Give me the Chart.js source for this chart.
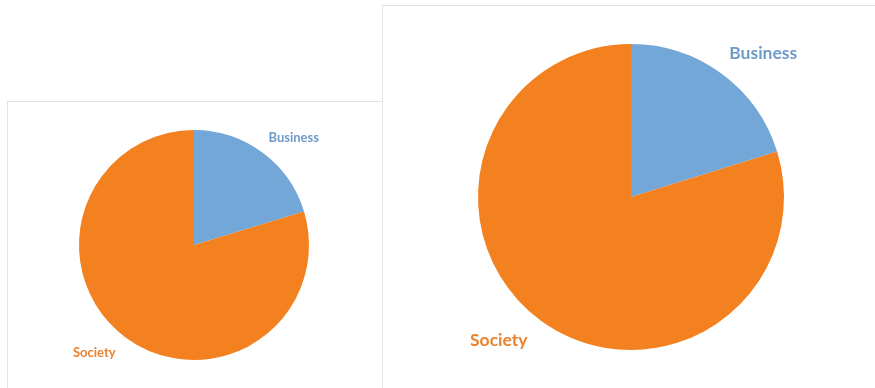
<!DOCTYPE html>
<html><head><meta charset="utf-8">
<script src="https://cdn.jsdelivr.net/npm/chart.js@4"></script>
<style>
html,body{margin:0;padding:0;background:#fff;width:875px;height:388px;overflow:hidden;}
.box{position:absolute;border:1px solid #e2e2e2;background:#fff;box-sizing:border-box;}
#b1{left:7px;top:101px;width:376px;height:300px;}
#b2{left:382px;top:5px;width:500px;height:400px;}
canvas{position:absolute;left:0;top:0;}
</style></head><body>
<div class="box" id="b1"><canvas id="c1" width="374" height="286"></canvas></div>
<div class="box" id="b2"><canvas id="c2" width="492" height="382"></canvas></div>
<script>
const categories = ["Business", "Society"];
const leftValues = [20.3, 79.7];
const rightValues = [20.2, 79.8];
const sliceColors = ["#72a7d8", "#f38120"];
const labelColors = ["#6f9bc8", "#ea8330"];

const labelPlugin = {
  id: 'sliceLabels',
  afterDatasetsDraw(chart, args, opts) {
    const ctx = chart.ctx;
    const meta = chart.getDatasetMeta(0);
    ctx.save();
    meta.data.forEach((arc, i) => {
      const p = arc.getProps(['x','y','startAngle','endAngle','outerRadius'], true);
      const mid = (p.startAngle + p.endAngle) / 2 + opts.shift;
      const r = p.outerRadius * opts.dist;
      const x = p.x + Math.cos(mid) * r;
      const y = p.y + Math.sin(mid) * r;
      ctx.font = 'bold ' + opts.size + 'px Lato, "Open Sans", sans-serif';
      ctx.fillStyle = labelColors[i];
      ctx.textAlign = 'center';
      ctx.textBaseline = 'middle';
      ctx.fillText(chart.data.labels[i], x, y);
    });
    ctx.restore();
  }
};

function makePie(id, values, pad, size) {
  return new Chart(document.getElementById(id), {
    type: 'pie',
    data: { labels: categories, datasets: [{ data: values, backgroundColor: sliceColors, borderWidth: 0 }] },
    options: {
      responsive: false, animation: false,
      layout: { padding: pad },
      plugins: { legend: { display: false }, tooltip: { enabled: false },
        sliceLabels: { shift: 0.11, dist: 1.275, size: size } }
    },
    plugins: [labelPlugin]
  });
}
makePie('c1', leftValues, {left: 71, right: 73, top: 28, bottom: 28}, 13);
makePie('c2', rightValues, {left: 95, right: 91, top: 38, bottom: 38}, 17.5);
</script>
</body></html>
